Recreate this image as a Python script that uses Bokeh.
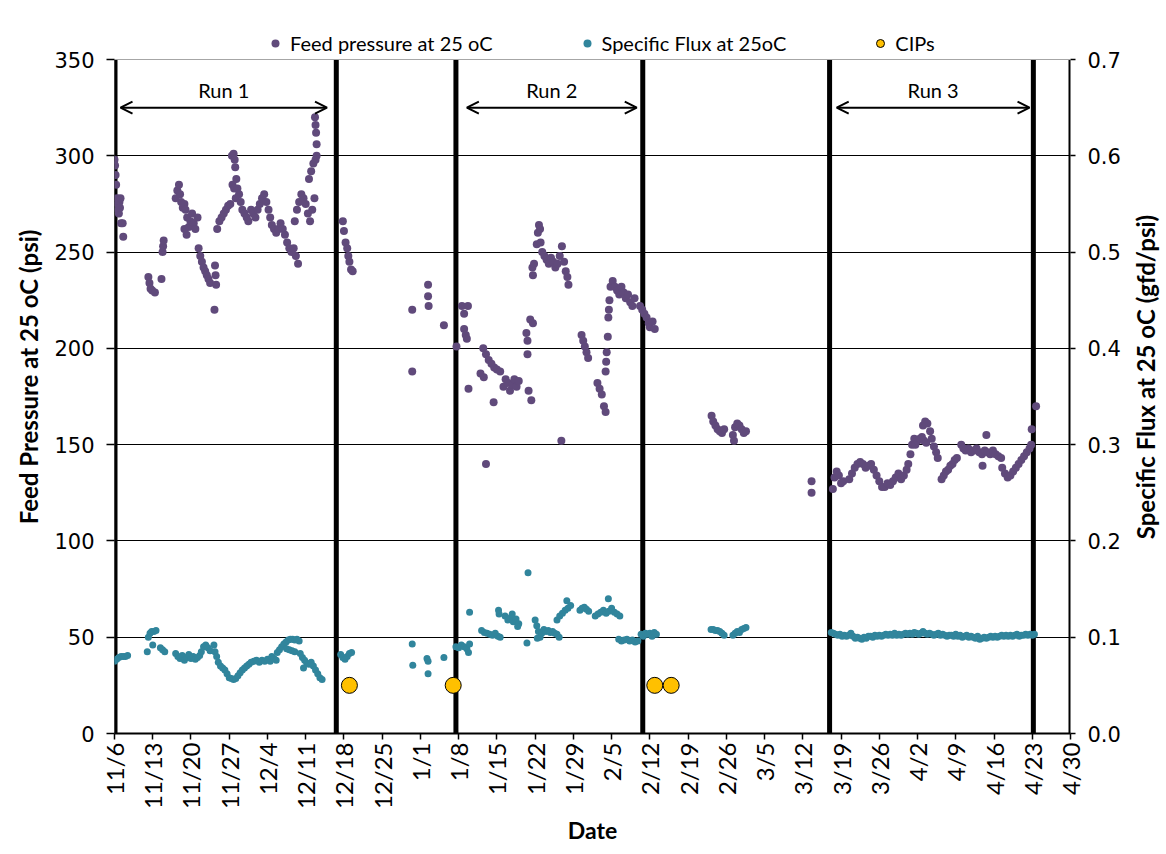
import math
from bokeh.plotting import figure
from bokeh.layouts import row
from bokeh.models import (Range1d, LinearAxis, FixedTicker, Span, Arrow, OpenHead,
                          Label, Legend, LegendItem, PrintfTickFormatter, Title)
from bokeh.embed import file_html
from bokeh.resources import INLINE

# ---------------- data ----------------
tick_labels = ["11/6", "11/13", "11/20", "11/27", "12/4", "12/11", "12/18", "12/25",
               "1/1", "1/8", "1/15", "1/22", "1/29", "2/5", "2/12", "2/19", "2/26",
               "3/5", "3/12", "3/19", "3/26", "4/2", "4/9", "4/16", "4/23", "4/30"]
# days since 11/6
tick_days = [7 * i for i in range(len(tick_labels))]
psi_ticks = [0, 50, 100, 150, 200, 250, 300, 350]
flux_ticks = [0, 0.1, 0.2, 0.3, 0.4, 0.5, 0.6, 0.7]

# run boundaries (days since 11/6)
boundary_days = [0.0, 40.6, 62.5, 96.7, 130.9, 168.2]
run_names = ["Run 1", "Run 2", "Run 3"]
run_start = [1.1, 64.5, 132.2]
run_end = [38.9, 95.6, 167.5]
run_level = 325

# CIPs
cip_day = [43.0, 62.0, 98.9, 101.9]
cip_psi = [25, 25, 25, 25]

# Feed pressure at 25 oC (psi)
fp1_day = [0.0, 0.1, 0.2, 0.3, 0.5, 0.6, 0.7, 0.8, 0.9, 1.0, 1.1, 1.2, 1.5, 1.6,
           6.2, 6.4, 6.6, 6.9, 7.4, 8.6, 8.8, 8.9, 9.0]
fp1_psi = [298, 295, 290, 285, 278, 275, 272, 270, 276, 273, 278, 265, 265, 258,
           237, 234, 231, 230, 229, 236, 250, 253, 256]

fp2_day = [11.2, 11.5, 11.8, 12.0, 12.2, 12.5, 12.8, 13.0, 13.3, 13.6, 13.9, 14.2, 14.5, 14.8, 15.2, 12.8, 13.2,
           15.4, 15.7, 16.0, 16.3, 16.6, 16.9, 17.2, 17.5, 18.3, 18.4, 18.5, 18.6]
fp2_psi = [278, 282, 285, 280, 276, 273, 275, 272, 268, 263, 266, 270, 265, 262, 268, 262, 259,
           252, 248, 245, 242, 240, 238, 236, 234, 220, 243, 238, 233]

fp3_day = [18.8, 19.2, 19.6, 20.0, 20.4, 20.8, 21.2, 21.5, 21.8, 22.0, 22.1, 22.3, 22.5, 22.2,
           22.8, 23.1, 23.4, 23.8, 24.2, 24.5, 21.6, 21.9]
fp3_psi = [262, 266, 268, 270, 272, 274, 275, 300, 301, 298, 294, 288, 283, 278,
           280, 276, 272, 270, 268, 266, 285, 283]

fp4_day = [25.0, 25.4, 25.8, 26.2, 26.6, 27.0, 27.4, 27.8, 28.2, 28.5, 28.8, 29.2, 29.6, 30.0,
           30.4, 30.8, 31.2, 31.6, 32.0, 32.4, 32.8, 33.2, 33.6]
fp4_psi = [272, 270, 268, 272, 275, 278, 280, 276, 272, 268, 264, 262, 260, 262,
           265, 262, 259, 255, 252, 250, 252, 248, 244]

fp5_day = [33.0, 33.4, 33.8, 34.2, 34.6, 35.0, 35.4, 35.8, 36.2, 36.6, 35.6, 36.0, 36.4, 36.8,
           37.0, 36.7, 36.8, 36.9, 37.0,
           41.8, 42.0, 42.3, 42.6, 42.8, 43.0, 43.3, 43.6,
           54.5, 54.5, 57.4, 57.4, 57.5, 60.3]
fp5_psi = [266, 272, 276, 280, 278, 275, 270, 266, 272, 278, 288, 292, 296, 298,
           300, 320, 316, 312, 306,
           266, 261, 255, 252, 248, 245, 241, 240,
           220, 188, 233, 227, 222, 212]

fp6_day = [62.6, 63.6, 64.0, 64.7, 64.0, 64.3, 64.5, 64.8,
           67.5, 68.0, 68.5, 69.0, 69.5, 70.0, 70.6, 67.0, 67.6, 68.0, 69.4,
           71.2, 71.6, 72.0, 72.4, 72.8, 73.2, 73.6, 74.0,
           75.4, 75.6, 75.6, 75.8, 76.3, 76.1, 76.6]
fp6_psi = [201, 222, 218, 222, 210, 207, 205, 179,
           200, 197, 194, 192, 190, 189, 188, 187, 185, 140, 172,
           180, 184, 182, 178, 181, 184, 180, 183,
           208, 204, 197, 178, 173, 215, 213]

fp7_day = [76.5, 76.6, 76.8, 77.3, 77.5, 77.7, 77.9, 78.0, 78.3, 78.7, 79.1, 79.5, 79.9, 80.3,
           80.7, 81.1, 81.5, 81.9, 82.3, 82.6, 82.9, 83.1, 81.8,
           85.5, 85.8, 86.1, 86.4, 86.7]
fp7_psi = [242, 238, 244, 254, 260, 264, 262, 255, 250, 248, 246, 244, 247, 245,
           242, 244, 248, 253, 245, 240, 237, 233, 152,
           207, 204, 201, 198, 195]

fp8_day = [88.4, 88.8, 89.2, 89.6, 89.9, 89.9, 90.0, 90.1, 90.3, 90.4, 90.5, 90.6,
           90.8, 91.2, 91.6, 92.0, 92.4, 92.8, 93.2, 93.6, 94.0, 94.4, 94.8, 95.2,
           96.2, 96.6, 97.0, 97.4, 97.8, 98.0, 98.5, 98.9]
fp8_psi = [182, 179, 176, 170, 167, 188, 193, 198, 206, 216, 220, 225,
           232, 235, 232, 230, 228, 232, 229, 226, 228, 224, 222, 226,
           222, 220, 218, 216, 213, 211, 214, 210]

fp9_day = [109.3, 109.6, 110.0, 110.4, 110.8, 111.2, 111.6,
           113.2, 113.6, 114.0, 114.4, 114.8, 115.2, 115.6, 113.4,
           127.6, 127.6]
fp9_psi = [165, 162, 160, 158, 157, 156, 158,
           155, 159, 161, 160, 158, 156, 157, 152,
           131, 125]

fp10_day = [131.5, 131.8, 132.2, 132.6, 133.0, 133.4,
            134.5, 135.0, 135.5, 136.0, 136.5, 137.0, 137.5, 138.0, 138.5, 139.0, 139.5,
            140.0, 140.5, 141.0, 141.5, 142.0, 142.5, 143.0, 143.5, 144.0, 144.5, 145.0,
            145.3, 145.7, 146.0, 146.4, 146.6, 147.0, 147.4, 147.8, 148.2, 148.6, 148.0, 148.4, 148.8,
            149.3, 149.6, 150.0, 150.4, 150.7,
            151.4, 151.8, 152.2, 152.6, 153.0, 153.4, 153.8, 154.2,
            155.0, 155.4, 155.8, 156.3, 156.8, 157.3, 157.8, 158.3, 158.8, 159.3, 159.8, 160.3,
            160.8, 161.3, 161.8, 162.3, 159.6, 158.9,
            162.5, 163.0, 163.5, 164.0, 164.5, 165.0, 165.5,
            166.0, 166.5, 167.0, 167.5, 167.8, 167.9, 168.7]
fp10_psi = [127, 133, 136, 134, 130, 131,
            132, 135, 138, 140, 141, 140, 138, 139, 140, 137, 134,
            131, 128, 128, 130, 129, 131, 133, 135, 132, 134, 137,
            140, 145, 150, 153, 150, 152, 153, 154, 152, 151, 160, 162, 161,
            157, 153, 149, 146, 143,
            132, 134, 136, 137, 139, 140, 142, 143,
            150, 148, 147, 148, 146, 147, 148, 146, 145, 147, 146, 145,
            147, 145, 144, 143, 155, 139,
            138, 135, 133, 134, 136, 138, 140,
            142, 144, 146, 148, 150, 158, 170]

# Specific flux at 25 oC (gfd/psi)
sf1_day = [0.0, 0.4, 0.8, 1.2, 1.6, 2.0, 2.4, 6.0, 6.2, 6.5, 6.8, 7.0, 7.2, 7.6, 8.4, 8.8, 9.2]
sf1_flux = [0.075, 0.077, 0.079, 0.080, 0.080, 0.080, 0.081, 0.085, 0.100, 0.104, 0.106, 0.092,
            0.106, 0.107, 0.089, 0.087, 0.085]

sf2_day = [11.2, 11.6, 12.0, 12.4, 12.8, 13.2, 13.6, 14.0, 14.4, 14.8, 15.2, 15.6,
           15.9, 16.3, 16.7, 17.1, 17.5, 18.2,
           18.4, 18.7, 19.0, 19.4, 19.8, 20.2, 20.6, 21.0, 21.4, 21.8, 22.2]
sf2_flux = [0.083, 0.080, 0.078, 0.081, 0.076, 0.079, 0.082, 0.078, 0.080, 0.077, 0.079, 0.081,
            0.085, 0.090, 0.092, 0.089, 0.086, 0.092,
            0.085, 0.080, 0.074, 0.070, 0.068, 0.066, 0.062, 0.058, 0.057, 0.056, 0.057]

sf3_day = [22.6, 23.0, 23.4, 23.8, 24.2, 24.6, 25.0, 25.5, 26.0, 26.5, 27.0, 27.5, 28.0, 28.5,
           28.8, 29.2, 29.6,
           29.8, 30.2, 30.6, 31.0, 31.4, 31.8, 32.2, 32.6, 33.0, 33.4, 33.8,
           31.5, 32.0, 32.5, 33.0]
sf3_flux = [0.060, 0.063, 0.066, 0.068, 0.070, 0.072, 0.074, 0.075, 0.076, 0.074, 0.076, 0.075, 0.077, 0.075,
            0.080, 0.078, 0.076,
            0.084, 0.087, 0.090, 0.093, 0.095, 0.097, 0.098, 0.098, 0.097, 0.098, 0.096,
            0.088, 0.087, 0.086, 0.085]

sf4_day = [34.0, 34.4, 34.8, 35.2, 35.6, 36.0, 36.4, 36.8, 37.2, 37.6, 38.0, 34.6,
           41.4, 41.8, 42.2, 42.6, 43.0, 43.4,
           54.5, 54.6, 57.2, 57.4, 57.4, 60.3]
sf4_flux = [0.083, 0.079, 0.076, 0.073, 0.072, 0.074, 0.070, 0.066, 0.062, 0.058, 0.056, 0.068,
            0.082, 0.079, 0.077, 0.080, 0.083, 0.084,
            0.093, 0.071, 0.078, 0.075, 0.062, 0.079]

sf5_day = [62.5, 63.0, 63.5, 64.0, 64.5, 65.0, 64.8, 65.0,
           67.2, 67.7, 68.2, 68.7, 69.2, 69.7, 70.2, 70.6,
           70.3, 70.4,
           71.5, 72.0, 72.5, 73.0, 73.5, 74.0, 73.8, 72.8,
           75.5, 75.7,
           77.0, 77.3, 77.6, 77.9, 78.2, 78.6, 79.0, 79.4, 79.8, 80.2, 80.6, 81.0, 81.4, 77.4,
           81.0, 81.5, 82.0, 82.5, 83.0, 83.5, 82.8,
           85.2, 85.6, 86.0, 86.4, 86.8,
           88.0, 88.5, 89.0, 89.5, 90.0, 90.5, 91.0, 91.5, 92.0, 92.5, 90.4,
           92.3, 92.8, 93.3, 93.8, 94.3, 94.8, 95.3, 95.8,
           96.4, 96.8, 97.2, 97.6, 98.0, 98.4, 98.8, 99.2]
sf5_flux = [0.090, 0.089, 0.092, 0.090, 0.088, 0.093, 0.084, 0.126,
            0.107, 0.105, 0.104, 0.103, 0.102, 0.104, 0.101, 0.100,
            0.128, 0.124,
            0.122, 0.118, 0.120, 0.116, 0.119, 0.114, 0.111, 0.124,
            0.094, 0.167,
            0.118, 0.112, 0.106, 0.100, 0.104, 0.108, 0.106, 0.107, 0.105, 0.106, 0.104, 0.103, 0.100, 0.099,
            0.118, 0.122, 0.125, 0.128, 0.130, 0.133, 0.138,
            0.128, 0.130, 0.131, 0.129, 0.127,
            0.122, 0.124, 0.126, 0.128, 0.125, 0.127, 0.130, 0.126, 0.124, 0.122, 0.140,
            0.098, 0.096, 0.097, 0.098, 0.096, 0.097, 0.095, 0.096,
            0.103, 0.101, 0.104, 0.103, 0.104, 0.101, 0.105, 0.103]

sf6_day = [109.2, 109.6, 110.0, 110.4, 110.8, 111.2, 111.6,
           113.2, 113.6, 114.0, 114.4, 114.8, 115.2, 115.6]
sf6_flux = [0.108, 0.108, 0.107, 0.107, 0.106, 0.104, 0.102,
            0.102, 0.104, 0.106, 0.105, 0.108, 0.109, 0.110]

sf7_day = [131.2, 131.6, 132.0, 132.4, 132.8, 133.2, 133.6, 134.0, 134.4, 134.8, 135.2, 135.6,
           136.0, 136.4, 136.8, 137.2, 137.6, 138.0, 138.4, 138.8, 139.2, 139.6, 140.0, 140.4,
           140.8, 141.2, 141.6, 142.0, 142.4, 142.8, 143.2, 143.6, 144.0, 144.4, 144.8, 145.2,
           145.6, 146.0, 146.4, 146.8, 147.2, 147.6, 148.0, 148.4, 148.8, 149.2, 149.6, 150.0,
           150.4, 150.8, 151.2, 151.6, 152.0, 152.4, 152.8, 153.2, 153.6, 154.0, 154.4, 154.8,
           155.2, 155.6, 156.0, 156.4, 156.8, 157.2, 157.6, 158.0, 158.4, 158.8, 159.2, 159.6,
           160.0, 160.4, 160.8, 161.2, 161.6, 162.0, 162.4, 162.8, 163.2, 163.6, 164.0, 164.4,
           164.8, 165.2, 165.6, 166.0, 166.4, 166.8, 167.2, 167.6, 168.0, 168.4]
sf7_flux = [0.105, 0.104, 0.103, 0.102, 0.103, 0.101, 0.102, 0.101, 0.102, 0.104, 0.101, 0.099,
            0.100, 0.099, 0.098, 0.100, 0.099, 0.101, 0.101, 0.100, 0.102, 0.101, 0.102, 0.101,
            0.102, 0.103, 0.102, 0.103, 0.102, 0.104, 0.102, 0.103, 0.102, 0.103, 0.104, 0.103,
            0.104, 0.103, 0.105, 0.104, 0.103, 0.104, 0.106, 0.104, 0.103, 0.104, 0.103, 0.102,
            0.103, 0.104, 0.102, 0.103, 0.102, 0.101, 0.102, 0.102, 0.101, 0.103, 0.101, 0.102,
            0.100, 0.101, 0.102, 0.100, 0.101, 0.100, 0.099, 0.101, 0.098, 0.099, 0.100, 0.099,
            0.100, 0.101, 0.100, 0.101, 0.100, 0.101, 0.102, 0.101, 0.102, 0.101, 0.102, 0.101,
            0.102, 0.103, 0.101, 0.102, 0.102, 0.103, 0.102, 0.103, 0.102, 0.103]

fp_day = fp1_day + fp2_day + fp3_day + fp4_day + fp5_day + fp6_day + fp7_day + fp8_day + fp9_day + fp10_day
fp_psi = fp1_psi + fp2_psi + fp3_psi + fp4_psi + fp5_psi + fp6_psi + fp7_psi + fp8_psi + fp9_psi + fp10_psi
sf_day = sf1_day + sf2_day + sf3_day + sf4_day + sf5_day + sf6_day + sf7_day
sf_flux = sf1_flux + sf2_flux + sf3_flux + sf4_flux + sf5_flux + sf6_flux + sf7_flux

# ---------------- styles ----------------
PURPLE = "#604A7B"
TEAL = "#31859C"
GOLD = "#FFC000"
FONT = "Lato"
NUMFONT = "DejaVu Sans"

# The plotting frame reaches a little above 350 psi so that the legend row fits inside it;
# the axes themselves are drawn only up to 350 psi / 0.7.
TOP_BORDER = 20
BOTTOM_BORDER = 115
FIG_H = 848
FRAME_PX = FIG_H - TOP_BORDER - BOTTOM_BORDER      # 713
PSI_TOP = 350
FRAME_TOP = PSI_TOP * FRAME_PX / 674.0
FLUX_TOP = 0.7 * FRAME_PX / 674.0
X_MAX = tick_days[-1]

p = figure(width=1123, height=FIG_H, output_backend="svg", toolbar_location=None,
           x_range=Range1d(0, X_MAX), y_range=Range1d(0, FRAME_TOP),
           min_border_left=114, min_border_right=52, min_border_top=TOP_BORDER,
           min_border_bottom=BOTTOM_BORDER)
p.extra_y_ranges = {"flux": Range1d(0, FLUX_TOP)}
p.outline_line_color = None
p.background_fill_color = "white"
p.border_fill_color = "white"

p.xgrid.visible = False
p.ygrid.ticker = FixedTicker(ticks=psi_ticks[1:-1])
p.ygrid.grid_line_color = "black"
p.ygrid.grid_line_width = 1
p.add_layout(Span(location=PSI_TOP, dimension="width", line_color="#A6A6A6", line_width=1))

# x axis
xa = p.xaxis[0]
xa.ticker = FixedTicker(ticks=tick_days)
xa.major_label_overrides = {d: l for d, l in zip(tick_days, tick_labels)}
xa.major_label_orientation = math.pi / 2
xa.major_label_text_font = FONT
xa.major_label_text_font_size = "24px"
xa.major_label_text_color = "black"
xa.major_label_standoff = 3
xa.axis_label = "Date"
xa.axis_label_text_font = FONT
xa.axis_label_text_font_style = "bold"
xa.axis_label_text_font_size = "23px"
xa.axis_label_text_color = "black"
xa.axis_label_standoff = 4
xa.axis_line_width = 2
xa.major_tick_in = 0
xa.major_tick_out = 6
xa.major_tick_line_width = 1.5
xa.minor_tick_line_color = None

# left axis
ya = p.yaxis[0]
ya.ticker = FixedTicker(ticks=psi_ticks)
ya.major_label_text_font = NUMFONT
ya.major_label_text_font_size = "21px"
ya.major_label_text_color = "black"
ya.major_label_standoff = 12
ya.axis_label = "Feed Pressure at 25 oC (psi)"
ya.axis_label_text_font = FONT
ya.axis_label_text_font_style = "bold"
ya.axis_label_text_font_size = "24px"
ya.axis_label_text_color = "black"
ya.axis_label_standoff = 8
ya.axis_line_color = None
ya.major_tick_in = 0
ya.major_tick_out = 8
ya.major_tick_line_width = 1.5
ya.minor_tick_line_color = None

# right axis (ticks and numbers; its title is drawn by the strip at the right)
ra = LinearAxis(y_range_name="flux", ticker=FixedTicker(ticks=flux_ticks),
                formatter=PrintfTickFormatter(format="%.1f"))
ra.major_label_text_font = NUMFONT
ra.major_label_text_font_size = "21px"
ra.major_label_text_color = "black"
ra.major_label_standoff = 12
ra.axis_line_color = None
ra.major_tick_in = 0
ra.major_tick_out = 5
ra.major_tick_line_width = 1.5
ra.minor_tick_line_color = None
p.add_layout(ra, "right")

# y axis lines (only up to 350 psi)
p.segment(x0=[0, X_MAX], y0=[0, 0], x1=[0, X_MAX], y1=[PSI_TOP, PSI_TOP],
          line_color="black", line_width=4)

# run boundary lines
bw = [6] + [5] * (len(boundary_days) - 1)
p.segment(x0=boundary_days, y0=[0] * len(boundary_days), x1=boundary_days,
          y1=[PSI_TOP] * len(boundary_days), line_color="black", line_width=bw)

# data
r_fp = p.scatter(fp_day, fp_psi, size=8, color=PURPLE, line_color=None)
r_sf = p.scatter(sf_day, sf_flux, size=7, color=TEAL, line_color=None, y_range_name="flux")
r_cip = p.scatter(cip_day, cip_psi, size=16, fill_color=GOLD, line_color="black", line_width=1)

# run arrows
for name, s, e in zip(run_names, run_start, run_end):
    p.add_layout(Arrow(start=OpenHead(size=12, line_width=2), end=OpenHead(size=12, line_width=2),
                       x_start=s, y_start=run_level, x_end=e, y_end=run_level, line_width=2))
    p.add_layout(Label(x=(s + e) / 2, y=run_level + 9, text=name, text_align="center",
                       text_baseline="middle", text_font=FONT, text_font_size="20px",
                       text_color="black"))

legend = Legend(items=[LegendItem(label="Feed pressure at 25 oC", renderers=[r_fp]),
                       LegendItem(label="Specific Flux at 25oC", renderers=[r_sf]),
                       LegendItem(label="CIPs", renderers=[r_cip])],
                orientation="horizontal", location=(151, 678), spacing=84,
                padding=0, margin=0, border_line_color=None, background_fill_alpha=0,
                label_text_font=FONT, label_text_font_size="20px", label_standoff=5,
                label_text_color="black",
                glyph_width=20, glyph_height=20, label_height=20)
p.add_layout(legend, "center")

# narrow strip on the right carrying the right-axis title (reads bottom to top)
p2 = figure(width=41, height=FIG_H, output_backend="svg", toolbar_location=None,
            x_range=Range1d(0, 1), y_range=Range1d(0, 1),
            min_border_left=36, min_border_right=0, min_border_top=TOP_BORDER,
            min_border_bottom=BOTTOM_BORDER)
p2.axis.visible = False
p2.grid.visible = False
p2.outline_line_color = None
p2.background_fill_color = "white"
p2.border_fill_color = "white"
p2.add_layout(Title(text="Specific Flux at 25 oC (gfd/psi)", align="center",
                    text_font=FONT, text_font_style="bold", text_font_size="24px",
                    text_color="black", standoff=0, offset=0), "left")
p2.scatter([0.5], [0.5], size=0, alpha=0)

layout = row(p, p2, spacing=0)
open("out.html", "w").write(file_html(layout, INLINE))
